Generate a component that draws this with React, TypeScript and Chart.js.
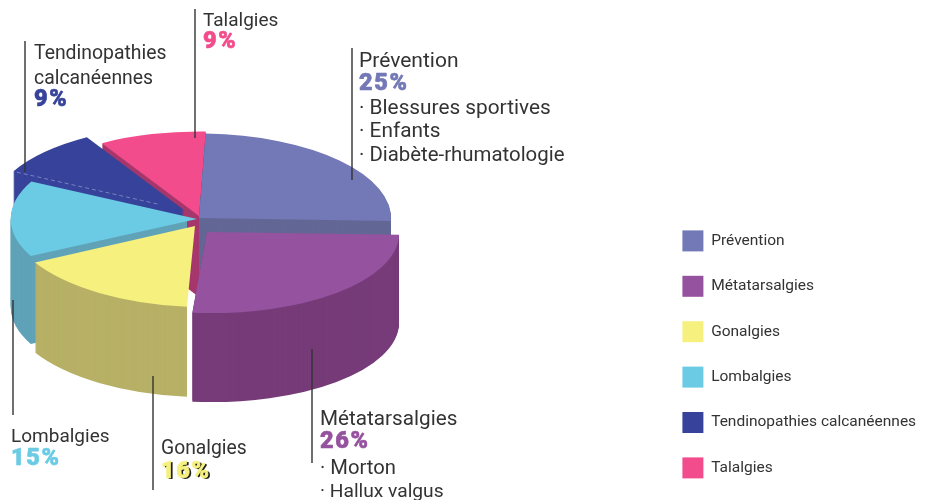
import React, { useEffect, useRef } from "react";
import { Chart, registerables } from "chart.js";

Chart.register(...registerables);

const categories = ["Prévention", "Métatarsalgies", "Gonalgies", "Lombalgies", "Tendinopathies calcanéennes", "Talalgies"];
const values = [25, 26, 16, 15, 9, 9];
const topColors = ["#7378B6", "#95529E", "#F6F07E", "#6BCBE4", "#37439B", "#F24C8C"];
const sideColors = ["#636795", "#763B78", "#B7B066", "#60A3B8", "#37439B", "#A6376C"];
const shiftX = [0, 8, -4, -2, -15, 0];
const shiftY = [0, 14, 8, 1, -8, -2];
const scaleX = [1, 1, 0.96, 0.97, 1, 1];
const scaleY = [1, 0.96, 0.96, 0.97, 1, 1];
const shear = [0, 0.05, 0.123, 0, 0, 0];
const depths = [78, 89, 90, 88, 88, 81];
const paintOrder = [5, 4, 0, 3, 2, 1];
const GONALGIES = 2;
const LOMBALGIES = 3;

const FLATTEN = 0.44;
const RADIUS = 192;
const CENTER_X = 199;
const CENTER_Y = 218;

const FONT = "Roboto, sans-serif";
const INK = "#333333";

const callouts = [
  { index: 5, x: 203, lines: [["Talalgies", 26, 19], ["%", 48, 0]], line: [195, 9, 138] },
  { index: 4, x: 34, lines: [["Tendinopathies", 59, 19.4], ["calcanéennes", 84, 19.4], ["%", 106, 0]], line: [25, 41, 172] },
  { index: 0, x: 359, lines: [["Prévention", 67, 21], ["%", 90, 0], ["· Blessures sportives", 114, 20.8], ["· Enfants", 137, 20.8], ["· Diabète-rhumatologie", 161, 20.4]], line: [352, 48, 180] },
  { index: 1, x: 320, lines: [["Métatarsalgies", 425, 20.7], ["%", 448, 0], ["· Morton", 474, 20.2], ["· Hallux valgus", 497, 19.2]], line: [312, 349, 463] },
  { index: 2, x: 161, lines: [["Gonalgies", 454, 19.3], ["%", 478, 0]], line: [153, 376, 490] },
  { index: 3, x: 11, lines: [["Lombalgies", 442, 19], ["%", 465, 0]], line: [13, 300, 415] },
] as const;

const pie3d = {
  id: "pie3d",
  afterLayout(chart: any) {
    chart.chartArea = {
      left: CENTER_X - RADIUS,
      right: CENTER_X + RADIUS,
      top: CENTER_Y - RADIUS,
      bottom: CENTER_Y + RADIUS,
      width: RADIUS * 2,
      height: RADIUS * 2,
    };
    const lg = chart.legend;
    lg.left = 658;
    lg.right = 929;
    lg.top = 206;
    lg.bottom = 800;
  },
  beforeDatasetDraw(chart: any, args: any) {
    const { ctx } = chart;
    const arcs = args.meta.data;
    const place = (i: number, drop: number) => {
      ctx.translate(shiftX[i], shiftY[i] + drop);
      ctx.translate(CENTER_X, CENTER_Y);
      ctx.transform(1, 0, shear[i], 1, 0, 0);
      ctx.scale(scaleX[i], FLATTEN * scaleY[i]);
      ctx.translate(-CENTER_X, -CENTER_Y);
    };
    const g = GONALGIES;
    const a = arcs[g].startAngle;
    const cornerX =
      CENTER_X +
      shiftX[g] +
      scaleX[g] * Math.cos(a) * RADIUS +
      shear[g] * scaleY[g] * FLATTEN * Math.sin(a) * RADIUS;
    for (const i of paintOrder) {
      const arc = arcs[i];
      const own = arc.options;
      arc.options = { ...own, backgroundColor: sideColors[i] };
      ctx.save();
      if (i === GONALGIES || i === LOMBALGIES) {
        // these walls stop at the yellow corner, so the gap beside it stays open
        ctx.beginPath();
        ctx.rect(0, 0, cornerX, 500);
        ctx.clip();
      }
      for (let d = depths[i]; d > 0; d -= 1) {
        ctx.save();
        place(i, d);
        arc.draw(ctx);
        ctx.restore();
      }
      ctx.restore();
      arc.options = own;
      ctx.save();
      place(i, 0);
      arc.draw(ctx);
      ctx.restore();
    }
    return false;
  },
  afterDraw(chart: any) {
    const { ctx } = chart;
    ctx.save();
    // hairline that marks the real edge of the blue slice over its own wall
    const blue = chart.getDatasetMeta(0).data[4];
    const bx = blue.x + shiftX[4];
    const by = blue.y + shiftY[4];
    ctx.strokeStyle = "rgba(190,195,225,0.7)";
    ctx.setLineDash([4, 3]);
    ctx.lineWidth = 0.7;
    ctx.beginPath();
    ctx.moveTo(bx + Math.cos(blue.startAngle) * 30, by + Math.sin(blue.startAngle) * 30 * FLATTEN);
    ctx.lineTo(bx + Math.cos(blue.startAngle) * RADIUS, by + Math.sin(blue.startAngle) * RADIUS * FLATTEN);
    ctx.stroke();
    ctx.setLineDash([]);

    ctx.textBaseline = "alphabetic";
    ctx.textAlign = "left";
    for (const c of callouts) {
      ctx.strokeStyle = INK;
      ctx.lineWidth = 1.4;
      ctx.beginPath();
      ctx.moveTo(c.line[0], c.line[1]);
      ctx.lineTo(c.line[0], c.line[2]);
      ctx.stroke();
      for (const [text, y, size] of c.lines) {
        if (text === "%") {
          const label = `${values[c.index]}%`;
          ctx.font = `900 23.5px ${FONT}`;
          ctx.letterSpacing = "1.6px";
          ctx.lineJoin = "round";
          if (c.index === 2) {
            ctx.fillStyle = "#222222";
            ctx.fillText(label, c.x + 2, (y as number) + 1);
          }
          ctx.fillStyle = topColors[c.index];
          ctx.strokeStyle = topColors[c.index];
          ctx.lineWidth = 0.6;
          ctx.fillText(label, c.x, y as number);
          ctx.strokeText(label, c.x, y as number);
        } else {
          ctx.font = `400 ${size}px ${FONT}`;
          ctx.letterSpacing = "0px";
          ctx.fillStyle = INK;
          ctx.fillText(text as string, c.x, y as number);
        }
      }
    }
    ctx.restore();
  },
};

export default function App() {
  const ref = useRef<HTMLCanvasElement>(null);
  useEffect(() => {
    const chart = new Chart(ref.current as HTMLCanvasElement, {
      type: "pie",
      plugins: [pie3d as any],
      data: {
        labels: categories,
        datasets: [
          {
            data: values,
            backgroundColor: topColors,
            borderWidth: 0,
            radius: RADIUS,
            clip: false,
          } as any,
        ],
      },
      options: {
        animation: false,
        responsive: false,
        rotation: 2,
        layout: { padding: 0 },
        plugins: {
          tooltip: { enabled: false },
          legend: {
            display: true,
            position: "right",
            align: "start",
            labels: {
              boxWidth: 21,
              boxHeight: 21,
              padding: 24.4,
              color: INK,
              font: { family: FONT, size: 15.5 },
            },
          },
        },
      },
    });
    return () => chart.destroy();
  }, []);
  return (
    <canvas
      ref={ref}
      width={929}
      height={500}
      style={{ position: "fixed", left: 0, top: 0, width: 929, height: 500, background: "#fff" }}
    />
  );
}
